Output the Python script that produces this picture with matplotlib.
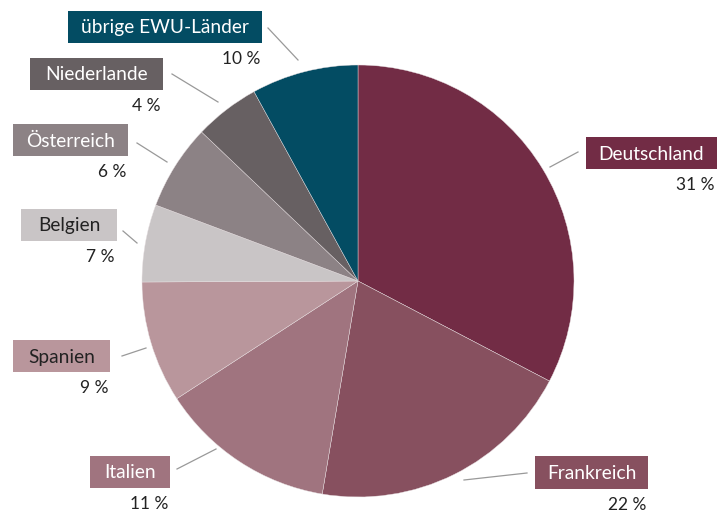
import numpy as np
import matplotlib
matplotlib.use('Agg')
import matplotlib.pyplot as plt
from matplotlib.patches import Rectangle

plt.rcParams['font.family'] = ['Lato', 'DejaVu Sans']

# slice shares as drawn, clockwise from 12 o'clock
countries = ['Deutschland', 'Frankreich', 'Italien', 'Spanien', 'Belgien',
             'Österreich', 'Niederlande', 'übrige EWU-Länder']
shares = [32.7, 20.0, 13.2, 9.1, 5.8, 6.4, 4.9, 8.0]
# printed percentages
pct_labels = ['31 %', '22 %', '11 %', '9 %', '7 %', '6 %', '4 %', '10 %']
colors = ['#722c45', '#87505f', '#a0747f', '#b9969c', '#c9c5c6',
          '#8c8285', '#676062', '#034c63']
text_colors = ['white', 'white', 'white', '#222222', '#222222',
               'white', 'white', 'white']

# layout in pixels (top-left origin): label box (left, top, right, bottom)
boxes = [(586, 137, 717, 169), (535, 456, 648, 489), (90, 456, 170, 488),
         (13, 340, 110, 372), (21, 209, 117, 241), (13, 124, 128, 156),
         (30, 58, 163, 90), (68, 11, 262, 43)]
# leader lines: (x0, y0, x1, y1)
leaders = [(550, 167, 578, 152), (464, 480, 527, 473), (216, 449, 177, 469),
           (146, 348, 122, 356), (137, 243, 123, 231), (167, 162, 137, 143),
           (218, 102, 172, 74), (298, 60, 268, 28)]

W, H = 720, 514
fig = plt.figure(figsize=(7.2, 5.14), dpi=100)
ax = fig.add_axes([0, 0, 1, 1])

cx, cy, R = 358, H - 281, 216
ax.pie(shares, colors=colors, startangle=90, counterclock=False,
       center=(cx, cy), radius=R,
       wedgeprops=dict(edgecolor='#e8e0e2', linewidth=0.3))

for i, name in enumerate(countries):
    l, t, r, b = boxes[i]
    ax.add_patch(Rectangle((l, H - b), r - l, b - t, facecolor=colors[i],
                           edgecolor='none'))
    ax.text((l + r) / 2, H - (t + b) / 2 - 1, name, ha='center', va='center',
            fontsize=13.8, color=text_colors[i])
    ax.text(r - 2, H - (b + 16), pct_labels[i], ha='right', va='center',
            fontsize=12.5, color='#222222')
    x0, y0, x1, y1 = leaders[i]
    ax.plot([x0, x1], [H - y0, H - y1], color='#999999', linewidth=0.9)

ax.set_xlim(0, W)
ax.set_ylim(0, H)
ax.set_aspect('equal')
ax.axis('off')

fig.savefig('out.png', dpi=100)
